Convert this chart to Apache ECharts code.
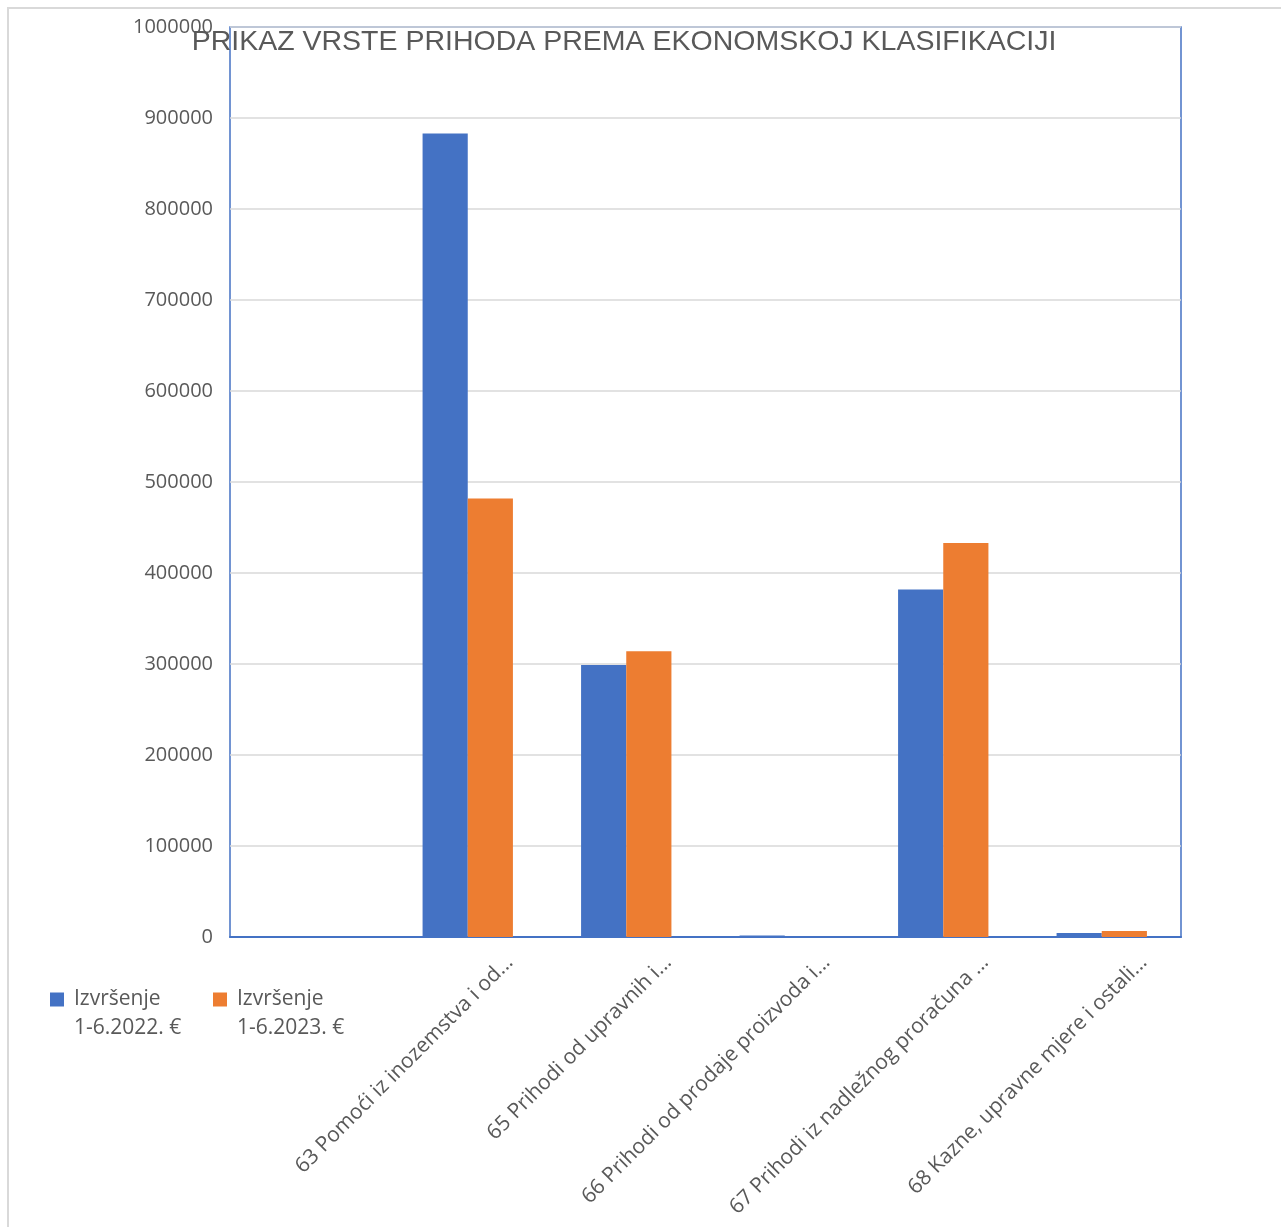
<!DOCTYPE html>
<html>
<head>
<meta charset="utf-8">
<script src="https://cdn.jsdelivr.net/npm/echarts@6/dist/echarts.min.js"></script>
<style>
  html, body { margin: 0; padding: 0; background: #ffffff; }
  #frame { position: absolute; left: 7px; top: 7px; width: 1400px; height: 1400px; border: 2px solid #d9d9d9; box-sizing: border-box; }
  #chart { position: absolute; left: 0; top: 0; width: 1281px; height: 1227px; }
</style>
</head>
<body>
<div id="frame"></div>
<div id="chart"></div>
<script>
const titleText = 'PRIKAZ VRSTE PRIHODA PREMA EKONOMSKOJ KLASIFIKACIJI';
const categories = [
  '',
  '63 Pomoći iz inozemstva i od...',
  '65 Prihodi od upravnih i...',
  '66 Prihodi od prodaje proizvoda i...',
  '67 Prihodi iz nadležnog proračuna ...',
  '68 Kazne, upravne mjere i ostali...'
];
const seriesNames = ['Izvršenje\n1-6.2022. €', 'Izvršenje\n1-6.2023. €'];
const values2022 = [0, 883000, 299000, 1700, 382000, 4400];
const values2023 = [0, 482000, 314000, 0, 433000, 6500];
const yMin = 0, yMax = 1000000, yStep = 100000;

const textColor = '#595959';
const blue = '#4472C4';
const orange = '#ED7D31';

function legendFormatter(name) {
  return '{t| }\n' + name.split('\n').map(s => '{t|' + s + '}').join('\n');
}
const legendText = {
  fontFamily: '"Open Sans", sans-serif', fontSize: 21, color: textColor,
  rich: { t: { fontFamily: '"Open Sans", sans-serif', fontSize: 21, color: textColor, lineHeight: 29, padding: [0, 0, 0, 5] } }
};

const chart = echarts.init(document.getElementById('chart'), null, { renderer: 'canvas' });
chart.setOption({
  backgroundColor: 'transparent',
  animation: false,
  title: {
    text: titleText,
    left: 619, top: 23, textAlign: 'center',
    textStyle: { fontFamily: '"Liberation Sans", Arial, sans-serif', fontSize: 28.5, fontWeight: 'normal', color: textColor }
  },
  legend: [
    {
      data: [seriesNames[0]], left: 50, top: 960, padding: 0, orient: 'horizontal',
      itemWidth: 14, itemHeight: 14, itemGap: 10, icon: 'rect',
      formatter: legendFormatter, textStyle: legendText
    },
    {
      data: [seriesNames[1]], left: 213, top: 960, padding: 0, orient: 'horizontal',
      itemWidth: 14, itemHeight: 14, itemGap: 10, icon: 'rect',
      formatter: legendFormatter, textStyle: legendText
    }
  ],
  grid: [
    { left: 230, right: 100, top: 27, bottom: 290, show: true, borderColor: blue, borderWidth: 1.5, backgroundColor: 'transparent', containLabel: false },
    { left: 272, right: 58, top: 27, bottom: 290, show: false, containLabel: false }
  ],
  xAxis: [
    {
      type: 'category', data: categories, gridIndex: 0,
      axisLine: { show: true, lineStyle: { color: blue, width: 2 } },
      axisTick: { show: false },
      axisLabel: { show: false },
      splitLine: { show: false }
    },
    {
      type: 'category', data: categories, gridIndex: 1,
      axisLine: { show: false }, axisTick: { show: false }, splitLine: { show: false },
      axisLabel: { show: true, interval: 0, rotate: 45, margin: 22, color: textColor, fontSize: 21, fontFamily: '"Open Sans", sans-serif' }
    }
  ],
  yAxis: [
    {
      type: 'value', gridIndex: 0, min: yMin, max: yMax, interval: yStep,
      axisLine: { show: false }, axisTick: { show: false },
      axisLabel: { margin: 17, color: textColor, fontSize: 20, fontFamily: '"Open Sans", sans-serif', formatter: v => String(v) },
      splitLine: { show: true, lineStyle: { color: '#d9d9d9', width: 1.5 } }
    },
    {
      type: 'value', gridIndex: 1, min: yMin, max: yMax, interval: yStep, show: false,
      splitLine: { show: false }
    }
  ],
  series: [
    {
      name: seriesNames[0], type: 'bar', xAxisIndex: 0, yAxisIndex: 0, data: values2022,
      itemStyle: { color: blue }, barGap: '0%', barCategoryGap: '43%'
    },
    {
      name: seriesNames[1], type: 'bar', xAxisIndex: 0, yAxisIndex: 0, data: values2023,
      itemStyle: { color: orange }, barGap: '0%', barCategoryGap: '43%'
    }
  ]
});
</script>
</body>
</html>
